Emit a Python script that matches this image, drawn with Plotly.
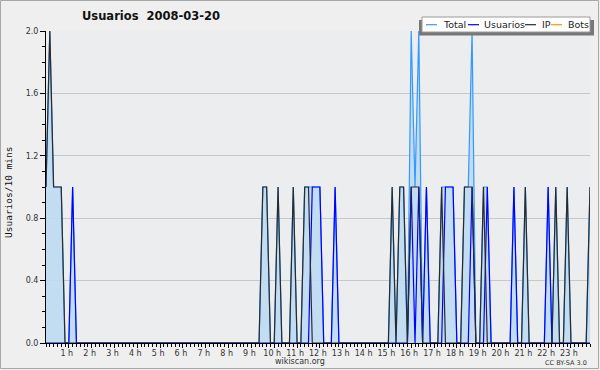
import plotly.graph_objects as go

# ---- data: one value per 10-minute slot (6 per hour, 24 hours) ----
total = [
    1, 2, 1, 1, 1, 0,   # 0 h
    0, 1, 0, 0, 0, 0,   # 1 h
    0, 0, 0, 0, 0, 0,   # 2 h
    0, 0, 0, 0, 0, 0,   # 3 h
    0, 0, 0, 0, 0, 0,   # 4 h
    0, 0, 0, 0, 0, 0,   # 5 h
    0, 0, 0, 0, 0, 0,   # 6 h
    0, 0, 0, 0, 0, 0,   # 7 h
    0, 0, 0, 0, 0, 0,   # 8 h
    0, 0, 0, 1, 1, 0,   # 9 h
    0, 1, 0, 0, 0, 1,   # 10 h
    0, 0, 1, 1, 1, 1,   # 11 h
    1, 0, 0, 0, 1, 0,   # 12 h
    0, 0, 0, 0, 0, 0,   # 13 h
    0, 0, 0, 0, 0, 0,   # 14 h
    0, 1, 0, 1, 1, 0,   # 15 h
    2, 1, 2, 0, 1, 0,   # 16 h
    0, 0, 1, 1, 1, 1,   # 17 h
    0, 0, 1, 1, 2, 0,   # 18 h
    0, 1, 1, 0, 0, 0,   # 19 h
    0, 0, 0, 1, 0, 0,   # 20 h
    1, 0, 0, 0, 0, 0,   # 21 h
    1, 0, 1, 0, 0, 1,   # 22 h
    0, 0, 0, 0, 0, 1,   # 23 h
]
usuarios = [
    0, 0, 0, 0, 0, 0,
    0, 1, 0, 0, 0, 0,
    0, 0, 0, 0, 0, 0,
    0, 0, 0, 0, 0, 0,
    0, 0, 0, 0, 0, 0,
    0, 0, 0, 0, 0, 0,
    0, 0, 0, 0, 0, 0,
    0, 0, 0, 0, 0, 0,
    0, 0, 0, 0, 0, 0,
    0, 0, 0, 0, 0, 0,
    0, 0, 0, 0, 0, 0,
    0, 0, 0, 0, 1, 1,
    1, 0, 0, 0, 1, 0,
    0, 0, 0, 0, 0, 0,
    0, 0, 0, 0, 0, 0,
    0, 0, 0, 0, 0, 0,
    1, 0, 1, 0, 1, 0,
    0, 0, 0, 1, 1, 1,
    0, 0, 0, 0, 1, 0,
    0, 0, 1, 0, 0, 0,
    0, 0, 0, 1, 0, 0,
    0, 0, 0, 0, 0, 0,
    1, 0, 0, 0, 0, 0,
    0, 0, 0, 0, 0, 0,
]
ip = [
    1, 2, 1, 1, 1, 0,
    0, 0, 0, 0, 0, 0,
    0, 0, 0, 0, 0, 0,
    0, 0, 0, 0, 0, 0,
    0, 0, 0, 0, 0, 0,
    0, 0, 0, 0, 0, 0,
    0, 0, 0, 0, 0, 0,
    0, 0, 0, 0, 0, 0,
    0, 0, 0, 0, 0, 0,
    0, 0, 0, 1, 1, 0,
    0, 1, 0, 0, 0, 1,
    0, 0, 1, 1, 0, 0,
    0, 0, 0, 0, 0, 0,
    0, 0, 0, 0, 0, 0,
    0, 0, 0, 0, 0, 0,
    0, 1, 0, 1, 1, 0,
    1, 1, 1, 0, 0, 0,
    0, 0, 1, 0, 0, 0,
    0, 0, 1, 1, 1, 0,
    0, 1, 0, 0, 0, 0,
    0, 0, 0, 0, 0, 0,
    1, 0, 0, 0, 0, 0,
    0, 0, 1, 0, 0, 1,
    0, 0, 0, 0, 0, 1,
]
bots = [0] * 144

slot_hours = [i / 6 for i in range(144)]
hour_ticks = list(range(1, 24))
hour_labels = [f"{h} h" for h in hour_ticks]
y_ticks = [0.0, 0.4, 0.8, 1.2, 1.6, 2.0]
y_labels = ["0.0", "0.4", "0.8", "1.2", "1.6", "2.0"]

series_names = ["Total", "Usuarios", "IP", "Bots"]
series_colors = ["#3399ff", "#0000ff", "#2b2b2b", "#ff9900"]

# ---- layout geometry (pixels) ----
W, H = 600, 370
L, R, T, B = 46, 10, 31, 27
PW, PH = W - L - R, H - T - B


def px(x):
    return (x - L) / PW


def py(y):
    return (H - B - y) / PH


fig = go.Figure()
fig.add_trace(go.Scatter(x=slot_hours, y=bots, mode="lines",
                         line=dict(color=series_colors[3], width=1),
                         showlegend=False, hoverinfo="skip"))
fig.add_trace(go.Scatter(x=slot_hours, y=total, mode="lines", fill="tozeroy",
                         fillcolor="rgba(190,218,242,0.9)",
                         line=dict(color=series_colors[0], width=1.2),
                         showlegend=False))
fig.add_trace(go.Scatter(x=slot_hours, y=usuarios, mode="lines",
                         line=dict(color=series_colors[1], width=1.2),
                         showlegend=False))
fig.add_trace(go.Scatter(x=slot_hours, y=ip, mode="lines",
                         line=dict(color=series_colors[2], width=1.2),
                         showlegend=False))

tickfont = dict(family="DejaVu Sans", size=8, color="#333333")

fig.update_layout(
    width=W, height=H,
    margin=dict(l=L, r=R, t=T, b=B, pad=0),
    paper_bgcolor="#efefef",
    plot_bgcolor="#ecedef",
    showlegend=False,
    xaxis=dict(
        range=[0, 143 / 6], showgrid=False, zeroline=False,
        showline=True, linecolor="#000000", linewidth=1,
        tickmode="array", tickvals=hour_ticks, ticktext=hour_labels,
        ticks="outside", ticklen=4, tickcolor="#000000", tickwidth=1,
        tickfont=tickfont, ticklabelshift=-2, ticklabelstandoff=-2,
        minor=dict(tickmode="linear", tick0=0, dtick=1 / 6, ticks="outside",
                   ticklen=3, tickcolor="#000000", showgrid=False),
    ),
    yaxis=dict(
        range=[0, 2.0], showgrid=True, gridcolor="#c8c8c8", gridwidth=1,
        zeroline=False, showline=True, linecolor="#000000", linewidth=1,
        tickmode="array", tickvals=y_ticks, ticktext=y_labels,
        ticks="outside", ticklen=5, tickcolor="#000000", tickwidth=1,
        tickfont=tickfont,
        minor=dict(tickmode="linear", tick0=0, dtick=0.1, ticks="outside",
                   ticklen=3, tickcolor="#000000", showgrid=False),
    ),
)

shapes = []
annotations = []

# image border
shapes.append(dict(type="rect", xref="paper", yref="paper",
                   x0=px(0.5), x1=px(598.5), y0=py(368.5), y1=py(0.5),
                   line=dict(color="#a8a8a8", width=1), fillcolor="rgba(0,0,0,0)",
                   layer="above"))

# title
annotations.append(dict(text="<b>Usuarios&nbsp;&nbsp;2008-03-20</b>", xref="paper", yref="paper",
                        x=px(151), y=py(16), xanchor="center", yanchor="middle",
                        showarrow=False,
                        font=dict(family="DejaVu Sans", size=11.5, color="#111111")))

# y axis title
annotations.append(dict(text="Usuarios/10 mins", xref="paper", yref="paper",
                        x=px(9), y=py(192), xanchor="center", yanchor="middle",
                        textangle=-90, showarrow=False,
                        font=dict(family="DejaVu Sans Mono", size=9.5, color="#111111")))

# footer
annotations.append(dict(text="wikiscan.org", xref="paper", yref="paper",
                        x=px(300), y=py(361), xanchor="center", yanchor="middle",
                        showarrow=False,
                        font=dict(family="DejaVu Sans", size=8, color="#333333")))
annotations.append(dict(text="CC BY-SA 3.0", xref="paper", yref="paper",
                        x=px(589), y=py(362.5), xanchor="right", yanchor="middle",
                        showarrow=False,
                        font=dict(family="DejaVu Sans", size=6.5, color="#333333")))

# legend (manual, to match compact reference layout)
shapes.append(dict(type="rect", xref="paper", yref="paper",
                   x0=px(419), x1=px(594), y0=py(35.5), y1=py(20),
                   line=dict(width=0), fillcolor="#777777", layer="above"))
shapes.append(dict(type="rect", xref="paper", yref="paper",
                   x0=px(422), x1=px(590), y0=py(32), y1=py(17),
                   line=dict(color="#9a9a9a", width=1), fillcolor="#ffffff",
                   layer="above"))
legend_line_x = [426, 468, 525, 551]
legend_text_x = [441, 482, 540, 566]
for name, color, lx, tx in zip(series_names, series_colors, legend_line_x, legend_text_x):
    shapes.append(dict(type="line", xref="paper", yref="paper",
                       x0=px(lx), x1=px(lx + 11), y0=py(24.7), y1=py(24.7),
                       line=dict(color=color, width=1.2), layer="above"))
    annotations.append(dict(text=name, xref="paper", yref="paper",
                            x=px(tx), y=py(24.7), xanchor="left", yanchor="middle",
                            showarrow=False,
                            font=dict(family="DejaVu Sans", size=9.5, color="#222222")))

fig.update_layout(shapes=shapes, annotations=annotations)
fig.write_html("out.html")
